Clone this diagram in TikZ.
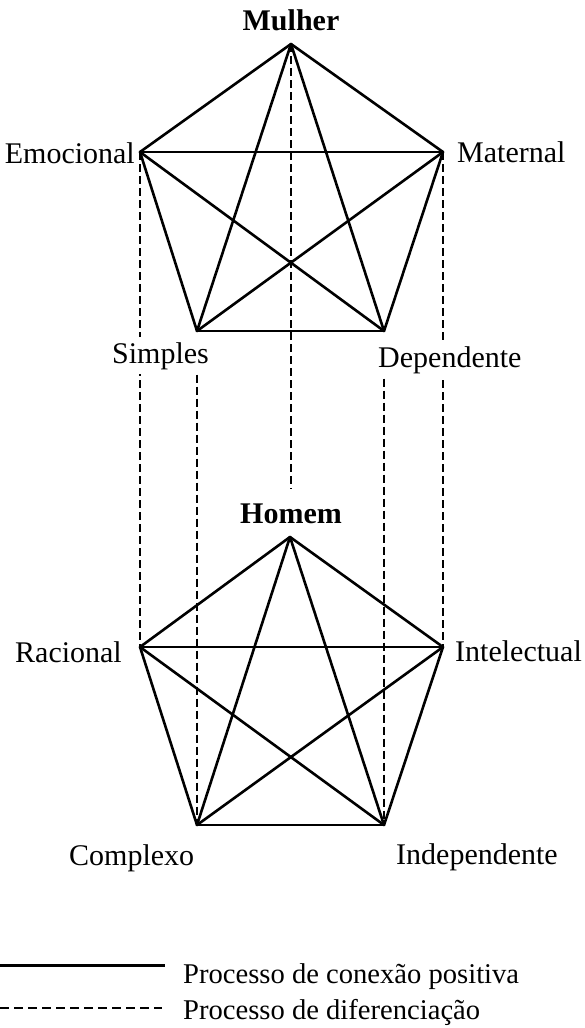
\documentclass[tikz,border=0pt]{standalone}
\usepackage{fontspec}
\setmainfont{Liberation Serif}
\begin{document}
\begin{tikzpicture}[x=1pt,y=-1pt,
  conn/.style={line width=2.6pt, line cap=round, line join=round},
  diff/.style={line width=2.3pt, dash pattern=on 8pt off 4pt},
  lbl/.style={inner sep=0pt, font=\fontsize{30}{36}\selectfont},
  blbl/.style={inner sep=0pt, font=\fontsize{30}{36}\selectfont\bfseries},
  leg/.style={inner sep=0pt, font=\fontsize{28.6}{34}\selectfont},
  cover/.style={fill=white, inner xsep=0pt, inner ysep=5pt}]
\useasboundingbox (0,0) rectangle (584,1028);
% vertices top
\coordinate (M) at (291,44);
\coordinate (Em) at (140,152);
\coordinate (Ma) at (443,152);
\coordinate (Si) at (197,331);
\coordinate (De) at (384,331);
% vertices bottom
\coordinate (H) at (290,537);
\coordinate (Ra) at (140,647);
\coordinate (In) at (443,647);
\coordinate (Co) at (197,825);
\coordinate (Id) at (384,825);
% labels (top)
\node[blbl, anchor=base] (mulher) at (291,30) {Mulher};
\node[lbl, anchor=base east] (emoc) at (135,163) {Emocional};
\node[lbl, anchor=base west] (mat) at (457,162) {Maternal};
\node[blbl, anchor=base] (homem) at (291,523) {Homem};
% dashed lines
\draw[diff] (M) -- ([yshift=15pt]homem.north);
\draw[diff] (Em) -- (Ra);
\draw[diff] (Ma) -- (In);
% solid top
\foreach \a/\b in {M/Em,M/Ma,Em/Ma,Em/Si,Ma/De,Si/De,M/Si,M/De,Em/De,Ma/Si}
  \draw[conn] (\a) -- (\b);
\foreach \a/\b in {H/Ra,H/In,Ra/In,Ra/Co,In/Id,Co/Id,H/Co,H/Id,Ra/Id,In/Co}
  \draw[conn] (\a) -- (\b);
% covering labels
\node[lbl, cover, anchor=base west] (simp) at (112,363) {Simples};
\node[lbl, cover, anchor=base west] (dep) at (378,367) {Dependente};
\draw[diff] (simp.south -| Co) -- (Co);
\draw[diff] (dep.south -| Id) -- (Id);
% labels (bottom)
\node[lbl, anchor=base east] (rac) at (122,662) {Racional};
\node[lbl, anchor=base east] (int) at (582,661) {Intelectual};
\node[lbl, anchor=base west] (comp) at (69,865) {Complexo};
\node[lbl, anchor=base west] (indep) at (396,864) {Independente};
% legend
\coordinate (l1a) at (0,965);
\coordinate (l1b) at (165,965);
\coordinate (l2a) at (0,1008);
\coordinate (l2b) at (162,1008);
\draw[line width=3pt] (l1a) -- (l1b);
\draw[diff, dash pattern=on 9pt off 5pt] (l2a) -- (l2b);
\node[leg, anchor=base west] (leg1) at (183,983) {Processo de conexão positiva};
\node[leg, anchor=base west] (leg2) at (183,1019) {Processo de diferenciação};
\end{tikzpicture}
\end{document}
